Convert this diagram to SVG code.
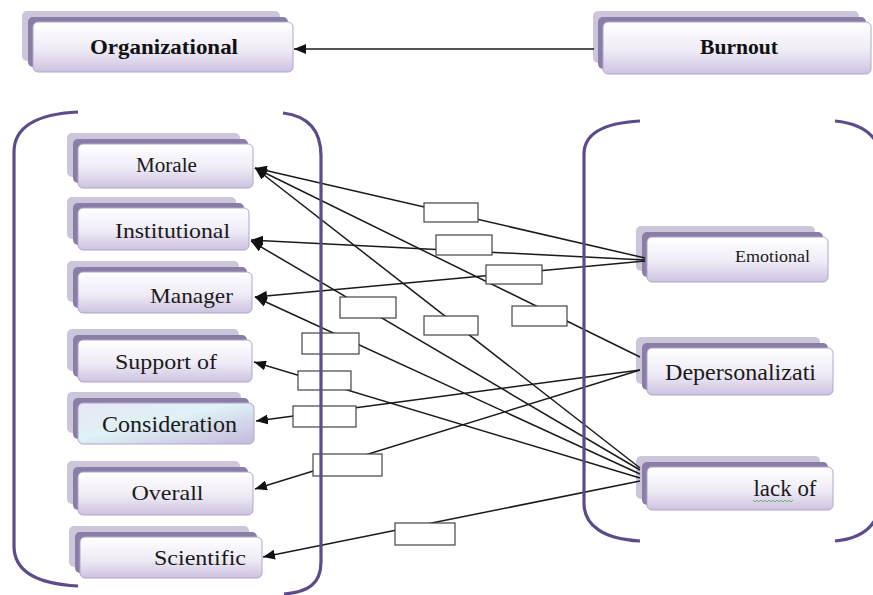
<svg xmlns="http://www.w3.org/2000/svg" width="873" height="595" viewBox="0 0 873 595">
<defs>
<linearGradient id="gFront" x1="0" y1="0" x2="0" y2="1">
<stop offset="0" stop-color="#ffffff"/>
<stop offset="0.55" stop-color="#efebf6"/>
<stop offset="1" stop-color="#cdc2e0"/>
</linearGradient>
<linearGradient id="gCons" x1="0" y1="0" x2="1" y2="1">
<stop offset="0" stop-color="#e9e6f4"/>
<stop offset="0.45" stop-color="#dff2f6"/>
<stop offset="1" stop-color="#c4b8dc"/>
</linearGradient>
<marker id="ah" viewBox="0 0 12 10" refX="12" refY="5" markerWidth="12" markerHeight="10" orient="auto" markerUnits="userSpaceOnUse">
<path d="M0,0 L12,5 L0,10 z" fill="#111"/>
</marker>
</defs>
<style>
.bk{fill:#cdc6da}
.dk{fill:#8a7da6}
.fr{fill:url(#gFront);stroke:#b2a6cd;stroke-width:1}
.frc{fill:url(#gCons);stroke:#b2a6cd;stroke-width:1}
.t{font-family:"Liberation Serif","Times New Roman",serif;fill:#1a1a1a;text-anchor:middle}
.tb{font-family:"Liberation Serif","Times New Roman",serif;font-weight:bold;fill:#111;text-anchor:middle}
.ln{stroke:#1a1a1a;stroke-width:1.5;fill:none;marker-end:url(#ah)}
.lb{fill:#ffffff;stroke:#444;stroke-width:1.2}
.br{fill:none;stroke:#5d4b8a;stroke-width:3.2}
</style>
<rect width="873" height="595" fill="#ffffff"/>

<g id="node-organizational">
<rect class="bk" x="22" y="11" width="258" height="50" rx="5"/>
<rect class="dk" x="28" y="17" width="260" height="50" rx="5"/>
<rect class="fr" x="33" y="22" width="260" height="50" rx="5"/>
<text class="tb" x="164" y="54" font-size="22" textLength="148" lengthAdjust="spacingAndGlyphs">Organizational</text>
</g>
<g id="node-burnout">
<rect class="bk" x="593" y="11" width="266" height="52" rx="5"/>
<rect class="dk" x="598" y="17" width="268" height="52" rx="5"/>
<rect class="fr" x="603" y="22" width="268" height="52" rx="5"/>
<text class="tb" x="739" y="54" font-size="22" textLength="78" lengthAdjust="spacingAndGlyphs">Burnout</text>
</g>

<g id="node-morale">
<rect class="bk" x="67" y="133" width="173" height="44" rx="5"/>
<rect class="dk" x="73" y="139" width="175" height="44" rx="5"/>
<rect class="fr" x="78" y="144" width="175" height="44" rx="5"/>
<text class="t" x="166.5" y="172" font-size="20" textLength="61" lengthAdjust="spacingAndGlyphs">Morale</text>
</g>
<g id="node-institutional">
<rect class="bk" x="67" y="197" width="169" height="42" rx="5"/>
<rect class="dk" x="73" y="203" width="171" height="42" rx="5"/>
<rect class="fr" x="78" y="208" width="171" height="42" rx="5"/>
<text class="t" x="172.5" y="238" font-size="22" textLength="115" lengthAdjust="spacingAndGlyphs">Institutional</text>
</g>
<g id="node-manager">
<rect class="bk" x="67" y="261" width="172" height="41" rx="5"/>
<rect class="dk" x="73" y="267" width="174" height="41" rx="5"/>
<rect class="fr" x="78" y="272" width="174" height="41" rx="5"/>
<text class="t" x="191.5" y="303" font-size="22" textLength="83" lengthAdjust="spacingAndGlyphs">Manager</text>
</g>
<g id="node-support">
<rect class="bk" x="67" y="329" width="172" height="42" rx="5"/>
<rect class="dk" x="73" y="335" width="174" height="42" rx="5"/>
<rect class="fr" x="78" y="340" width="174" height="42" rx="5"/>
<text class="t" x="166" y="369" font-size="22" textLength="102" lengthAdjust="spacingAndGlyphs">Support of</text>
</g>
<g id="node-consideration">
<rect class="bk" x="67" y="392" width="174" height="41" rx="5"/>
<rect class="dk" x="73" y="398" width="176" height="41" rx="5"/>
<rect class="frc" x="78" y="403" width="176" height="41" rx="5"/>
<text class="t" x="169.5" y="432" font-size="23" textLength="135" lengthAdjust="spacingAndGlyphs">Consideration</text>
</g>
<g id="node-overall">
<rect class="bk" x="67" y="461" width="173" height="43" rx="5"/>
<rect class="dk" x="73" y="467" width="175" height="43" rx="5"/>
<rect class="fr" x="78" y="472" width="175" height="43" rx="5"/>
<text class="t" x="167.5" y="500" font-size="22" textLength="72" lengthAdjust="spacingAndGlyphs">Overall</text>
</g>
<g id="node-scientific">
<rect class="bk" x="69" y="526" width="180" height="41" rx="5"/>
<rect class="dk" x="75" y="532" width="182" height="41" rx="5"/>
<rect class="fr" x="80" y="537" width="182" height="41" rx="5"/>
<text class="t" x="200" y="565" font-size="22" textLength="92" lengthAdjust="spacingAndGlyphs">Scientific</text>
</g>

<g id="node-emotional">
<rect class="bk" x="636" y="226" width="179" height="45" rx="5"/>
<rect class="dk" x="642" y="232" width="181" height="45" rx="5"/>
<rect class="fr" x="647" y="237" width="181" height="45" rx="5"/>
<text class="t" x="772.5" y="262" font-size="17.5" textLength="75" lengthAdjust="spacingAndGlyphs">Emotional</text>
</g>
<g id="node-depersonalization">
<rect class="bk" x="636" y="337" width="184" height="47" rx="5"/>
<rect class="dk" x="642" y="343" width="186" height="47" rx="5"/>
<rect class="fr" x="647" y="348" width="186" height="47" rx="5"/>
<text class="t" x="740.5" y="380" font-size="22.5" textLength="151" lengthAdjust="spacingAndGlyphs">Depersonalizati</text>
</g>
<g id="node-lack">
<rect class="bk" x="636" y="456" width="184" height="43" rx="5"/>
<rect class="dk" x="642" y="462" width="186" height="43" rx="5"/>
<rect class="fr" x="647" y="467" width="186" height="43" rx="5"/>
<text class="t" x="785" y="496" font-size="23" textLength="63" lengthAdjust="spacingAndGlyphs">lack of</text>
<polyline points="753,500 755,502 757,500 759,502 761,500 763,502 765,500 767,502 769,500 771,502 773,500 775,502 777,500 779,502 781,500 783,502 785,500 787,502 789,500 791,502 793,500" fill="none" stroke="#4aa84f" stroke-width="0.8"/>
</g>

<g id="connectors">
<line class="ln" x1="594" y1="49" x2="294" y2="49"/>
<line class="ln" x1="645" y1="258" x2="255" y2="168"/>
<line class="ln" x1="645" y1="260" x2="251" y2="240"/>
<line class="ln" x1="645" y1="261" x2="255" y2="297"/>
<line class="ln" x1="640" y1="357" x2="255" y2="168"/>
<line class="ln" x1="640" y1="370" x2="256" y2="421"/>
<line class="ln" x1="640" y1="370" x2="255" y2="489"/>
<line class="ln" x1="640" y1="468" x2="255" y2="168"/>
<line class="ln" x1="640" y1="470" x2="251" y2="241"/>
<line class="ln" x1="640" y1="474" x2="255" y2="297"/>
<line class="ln" x1="640" y1="478" x2="254" y2="362"/>
<line class="ln" x1="640" y1="481" x2="263" y2="557"/>
<rect class="lb" x="424" y="203" width="54" height="19"/>
<rect class="lb" x="436" y="235" width="56" height="20"/>
<rect class="lb" x="486" y="265" width="56" height="19"/>
<rect class="lb" x="340" y="297" width="56" height="21"/>
<rect class="lb" x="424" y="316" width="54" height="19"/>
<rect class="lb" x="512" y="306" width="55" height="20"/>
<rect class="lb" x="302" y="333" width="57" height="21"/>
<rect class="lb" x="298" y="371" width="53" height="19"/>
<rect class="lb" x="293" y="406" width="63" height="21"/>
<rect class="lb" x="313" y="454" width="69" height="22"/>
<rect class="lb" x="395" y="523" width="60" height="22"/>
</g>

<g id="brackets">
<path class="br" d="M78,112 C38,114 14,126 14,152 L14,546 C14,572 38,584 78,586"/>
<path class="br" d="M283,113 C308,116 321,130 321,156 L321,562 C321,584 308,592 284,594"/>
<path class="br" d="M640,121 C604,123 584,133 584,154 L584,503 C584,526 604,539 640,541"/>
<path class="br" d="M835,121 C856,123 868,130 875,140"/>
<path class="br" d="M835,541 C856,539 868,532 875,520"/>
</g>
</svg>
